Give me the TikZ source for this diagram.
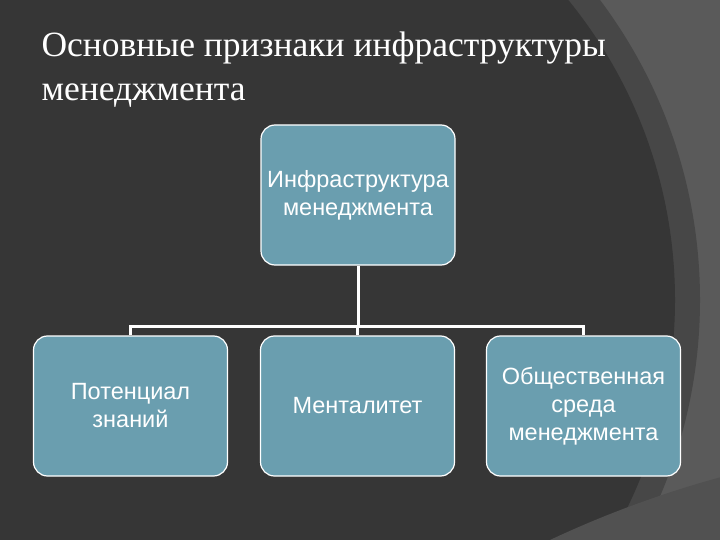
\documentclass[tikz,border=0pt]{standalone}
\usepackage{fontspec}
\setmainfont{Liberation Serif}
\newfontfamily\boxfont{Liberation Sans}
\begin{document}
\begin{tikzpicture}[x=1pt,y=-1pt,
  boxst/.style={draw=white,line width=1.2pt,fill=boxblue,rounded corners=14pt,minimum width=194pt,minimum height=140pt,text width=190pt,inner xsep=2pt,align=center,font=\boxfont\fontsize{23.5}{28}\selectfont,text=white},
  conn/.style={draw=white,line width=3pt}]
\definecolor{boxblue}{HTML}{6A9EAF}
\definecolor{bgA}{HTML}{5A5A5A}
\definecolor{bgB}{HTML}{474747}
\definecolor{bgC}{HTML}{363636}
\useasboundingbox (0,0) rectangle (720,540);
\clip (0,0) rectangle (720,540);
\fill[bgA] (0,0) rectangle (720,540);
\fill[bgB] (200,300) circle (500);
\fill[bgC] (200,300) circle (475);
\fill[bgA!90!black] (1000,1500) circle (1060);
\node[anchor=west,text=white,font=\fontsize{35.5}{44}\selectfont,align=left] (title) at (38,70) {Основные признаки инфраструктуры\\менеджмента};
\node[boxst] (top) at (358,195) {Инфраструктура\\менеджмента};
\node[boxst] (b1) at (130.5,406) {Потенциал\\знаний};
\node[boxst] (b2) at (357.5,406) {Менталитет};
\node[boxst] (b3) at (583.5,406) {Общественная\\среда\\менеджмента};
\coordinate (j) at (top.south |- 0,326);
\draw[conn] (top.south) -- (j);
\draw[conn] (b1.north) -- (b1.north |- j) -- (b3.north |- j) -- (b3.north);
\draw[conn] (b2.north) -- (b2.north |- j);
\end{tikzpicture}
\end{document}
